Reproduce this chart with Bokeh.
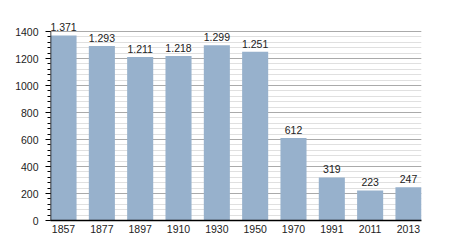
from bokeh.plotting import figure
from bokeh.models import ColumnDataSource, Range1d, FixedTicker
from bokeh.core.properties import value
from bokeh.embed import file_html
from bokeh.resources import INLINE

years = ["1857", "1877", "1897", "1910", "1930", "1950", "1970", "1991", "2011", "2013"]
population = [1371, 1293, 1211, 1218, 1299, 1251, 612, 319, 223, 247]
labels = [f"{v:,}".replace(",", ".") for v in population]
y_ticks = [0, 200, 400, 600, 800, 1000, 1200, 1400]
y_minor = list(range(0, 1401, 40))

xs = list(range(len(years)))
src = ColumnDataSource(dict(x=xs, top=population, label=labels))

FONT = "Liberation Sans"
bw = 0.68

p = figure(width=450, height=250, output_backend="svg", toolbar_location=None,
           x_range=Range1d(-bw / 2, len(years) - 1 + bw / 2), y_range=Range1d(0, 1504),
           min_border_left=50, min_border_right=29, min_border_top=17, min_border_bottom=30)
p.outline_line_color = None
p.background_fill_color = "white"
p.border_fill_color = "white"

p.vbar(x="x", top="top", width=bw, source=src, fill_color="#97b1cc", line_color=None)
p.text(x="x", y="top", text="label", source=src, text_align="center", text_baseline="bottom",
       y_offset=-4, text_font=value(FONT), text_font_size="10.5px", text_color="#222222")

p.xgrid.grid_line_color = None
p.ygrid.grid_line_color = "#aaaaaa"
p.ygrid.minor_grid_line_color = "#e0e0e0"

p.yaxis.ticker = FixedTicker(ticks=y_ticks, minor_ticks=y_minor)
p.yaxis.axis_line_color = None
p.yaxis.major_tick_line_color = "black"
p.yaxis.minor_tick_line_color = "black"
p.yaxis.major_tick_out = 5
p.yaxis.major_tick_in = 0
p.yaxis.minor_tick_out = 3
p.yaxis.minor_tick_in = 0
p.yaxis.major_label_standoff = 7
p.yaxis.major_label_text_font = FONT
p.yaxis.major_label_text_font_size = "10.5px"
p.yaxis.major_label_text_color = "#222222"

# vertical axis line only up to 1400
p.segment(x0=[-bw / 2], y0=[0], x1=[-bw / 2], y1=[y_ticks[-1]], line_color="black", line_width=1.5)

p.xaxis.ticker = FixedTicker(ticks=xs)
p.xaxis.major_label_overrides = {i: y for i, y in enumerate(years)}
p.xaxis.axis_line_color = "black"
p.xaxis.axis_line_width = 1.5
p.xaxis.major_tick_line_color = None
p.xaxis.minor_tick_line_color = None
p.xaxis.major_tick_out = 0
p.xaxis.major_tick_in = 0
p.xaxis.major_label_standoff = 4
p.xaxis.major_label_text_font = FONT
p.xaxis.major_label_text_font_size = "10.5px"
p.xaxis.major_label_text_color = "#222222"

open("out.html", "w").write(file_html(p, INLINE))
